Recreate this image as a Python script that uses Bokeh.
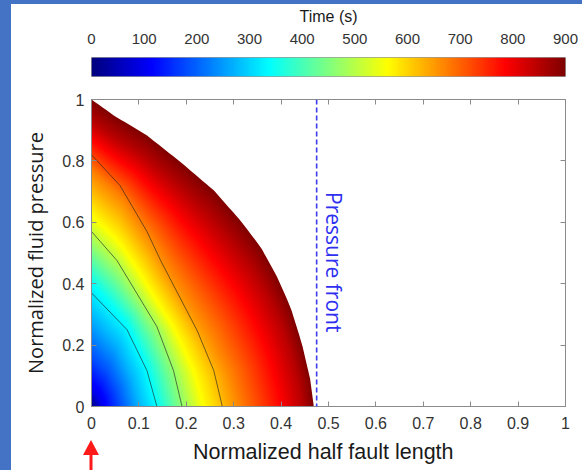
import numpy as np
from bokeh.plotting import figure
from bokeh.models import (LinearAxis, Span, LinearColorMapper, ColumnDataSource, Label, Div)
from bokeh.layouts import column
from bokeh.embed import file_html
from bokeh.resources import INLINE

# ---------------- data ----------------
time_ticks = [0, 100, 200, 300, 400, 500, 600, 700, 800, 900]
x_ticks = [0, 0.1, 0.2, 0.3, 0.4, 0.5, 0.6, 0.7, 0.8, 0.9, 1]
x_tick_labels = ["0", "0.1", "0.2", "0.3", "0.4", "0.5", "0.6", "0.7", "0.8", "0.9", "1"]
y_ticks = [0, 0.2, 0.4, 0.6, 0.8, 1]
y_tick_labels = ["0", "0.2", "0.4", "0.6", "0.8", "1"]
x_title = "Normalized half fault length"
y_title = "Normalized fluid pressure"

# pressure profiles drawn as thin black lines
curve_a_x = [0.0, 0.075, 0.117, 0.138]
curve_a_p = [0.37, 0.25, 0.117, 0.0]
curve_b_x = [0.0, 0.054, 0.138, 0.173, 0.191]
curve_b_p = [0.57, 0.475, 0.26, 0.117, 0.0]
curve_c_x = [0.0, 0.06, 0.117, 0.146, 0.223, 0.258, 0.276]
curve_c_p = [0.82, 0.72, 0.57, 0.475, 0.247, 0.117, 0.0]
# envelope at the final time (900 s)
final_x = [0.0, 0.047, 0.117, 0.188, 0.258, 0.314, 0.357, 0.392, 0.42, 0.444, 0.462, 0.469]
final_p = [1.0, 0.948, 0.883, 0.796, 0.704, 0.606, 0.519, 0.421, 0.323, 0.204, 0.085, 0.0]
profile_times = [330, 480, 650, 900]

anchor_t = [0, 90, 180, 270, 340, 450, 560, 675, 787, 850, 900]
anchor_p0 = [0.0, 0.05, 0.16, 0.29, 0.40, 0.51, 0.62, 0.77, 0.87, 0.93, 1.0]
anchor_xf = [0.0, 0.02, 0.06, 0.10, 0.138, 0.185, 0.235, 0.315, 0.40, 0.445, 0.469]
pressure_front_x = 0.475
injection_x = 0.0   # red arrow marks the injection point
t_max = 900


# ---------------- helpers ----------------
def jet(v):
    v = min(max(v, 0.0), 1.0)
    r = min(max(1.5 - abs(4 * v - 3), 0), 1)
    g = min(max(1.5 - abs(4 * v - 2), 0), 1)
    b = min(max(1.5 - abs(4 * v - 1), 0), 1)
    return "#%02x%02x%02x" % (int(r * 255), int(g * 255), int(b * 255))


jet256 = [jet(i / 255) for i in range(256)]

u = np.linspace(0, 1, 61)


def shape(xs, ps):
    xs = np.asarray(xs, float)
    ps = np.asarray(ps, float)
    return np.interp(u, xs / xs[-1], ps / ps[0])


shapes = np.array([shape(curve_a_x, curve_a_p), shape(curve_b_x, curve_b_p),
                   shape(curve_c_x, curve_c_p), shape(final_x, final_p)])


def profile(t):
    P = np.interp(t, anchor_t, anchor_p0)
    X = np.interp(t, anchor_t, anchor_xf)
    s = np.array([np.interp(t, profile_times, shapes[:, k]) for k in range(len(u))])
    return X * u, P * s


band_times = np.arange(t_max, 0, -5)
xs_list, ys_list, cols = [], [], []
for t in band_times:
    bx, by = profile(t)
    xs_list.append(list(bx) + [0.0])
    ys_list.append(list(by) + [0.0])
    cols.append(jet((t - 2.5) / t_max))
field_src = ColumnDataSource(dict(xs=xs_list, ys=ys_list, color=cols))

FONT_LBL = "Open Sans"
FONT_TICK = "Liberation Sans"
W = 571
BL, BR = 80, 17      # left / right borders of the plot frame (px)
FRAME_W = W - BL - BR

# ---------------- colour bar ----------------
mapper = LinearColorMapper(palette=jet256, low=0, high=t_max)
cb = figure(width=W, height=78, x_range=(0, t_max), y_range=(0, 1),
            x_axis_location="above", output_backend="svg", toolbar_location=None,
            min_border_left=BL, min_border_right=BR - 1, min_border_top=51, min_border_bottom=6)
cb.image(image=[np.linspace(0, t_max, 256)[None, :]], x=0, y=0, dw=t_max, dh=1,
         color_mapper=mapper)
cb.yaxis.visible = False
cb.grid.visible = False
cb.outline_line_color = "#9a9a9a"
cb.xaxis.ticker = time_ticks
cb.xaxis.axis_label = "Time (s)"
cb.xaxis.axis_line_color = None
cb.xaxis.major_tick_line_color = None
cb.xaxis.minor_tick_line_color = None
cb.xaxis.major_label_text_font = FONT_TICK
cb.xaxis.major_label_text_font_size = "15px"
cb.xaxis.major_label_text_color = "#333333"
cb.xaxis.major_label_standoff = 8
cb.xaxis.axis_label_text_font = FONT_TICK
cb.xaxis.axis_label_text_font_size = "16px"
cb.xaxis.axis_label_text_font_style = "normal"
cb.xaxis.axis_label_text_color = "#1a1a1a"
cb.xaxis.axis_label_standoff = 6
cb.border_fill_color = "white"

# ---------------- main plot ----------------
p = figure(width=W, height=356, x_range=(0, 1), y_range=(0, 1),
           output_backend="svg", toolbar_location=None,
           min_border_left=BL, min_border_right=BR, min_border_top=17, min_border_bottom=32)
p.grid.visible = False
p.outline_line_color = "#8a8a8a"
p.border_fill_color = "white"

p.patches("xs", "ys", source=field_src, fill_color="color", line_color=None)

for cx, cy in [(curve_a_x, curve_a_p), (curve_b_x, curve_b_p), (curve_c_x, curve_c_p)]:
    p.line(cx, cy, line_color="#222222", line_alpha=0.7, line_width=0.9)

p.add_layout(Span(location=pressure_front_x, dimension="height", line_color="#3a3af0",
                  line_dash="5 3", line_width=1.6))
p.add_layout(Label(x=pressure_front_x + 0.036, y=0.47, text="Pressure front",
                   angle=-np.pi / 2, text_align="center", text_baseline="middle",
                   text_color="#3030f0", text_font=FONT_LBL, text_font_size="21px"))

for ax in (p.xaxis[0], p.yaxis[0]):
    ax.major_tick_in = 5
    ax.major_tick_out = 0
    ax.minor_tick_line_color = None
    ax.axis_line_color = "#8a8a8a"
    ax.major_tick_line_color = "#8a8a8a"
    ax.major_label_text_font = FONT_TICK
    ax.major_label_text_font_size = "16px"
    ax.major_label_text_color = "#333333"
    ax.axis_label_text_font = FONT_LBL
    ax.axis_label_text_font_size = "20px"
    ax.axis_label_text_font_style = "normal"
    ax.axis_label_text_color = "#1a1a1a"

p.xaxis.ticker = x_ticks
p.xaxis.major_label_overrides = dict(zip(x_ticks, x_tick_labels))
p.yaxis.ticker = y_ticks
p.yaxis.major_label_overrides = dict(zip(y_ticks, y_tick_labels))
p.yaxis.axis_label = y_title
p.xaxis.major_label_standoff = 10
p.yaxis.major_label_standoff = 7
p.yaxis.axis_label_standoff = 10

top_ax = LinearAxis(ticker=x_ticks, major_label_text_font_size="0px", axis_line_color=None,
                    major_tick_in=5, major_tick_out=0, minor_tick_line_color=None,
                    major_tick_line_color="#8a8a8a", major_label_standoff=0)
right_ax = LinearAxis(ticker=y_ticks, major_label_text_font_size="0px", axis_line_color=None,
                      major_tick_in=5, major_tick_out=0, minor_tick_line_color=None,
                      major_tick_line_color="#8a8a8a", major_label_standoff=0)
p.add_layout(top_ax, "above")
p.add_layout(right_ax, "right")

# ---------------- strip below: x-axis title and red arrow (inline SVG) ----------------
bh = 32
ax0 = BL + injection_x * FRAME_W          # arrow position on the same x scale as the plot
title_cx = BL + 0.49 * FRAME_W
arrow_red = "#ff1a1a"
svg = (
    f'<svg xmlns="http://www.w3.org/2000/svg" width="{W}" height="{bh}" '
    f'style="display:block;margin:0;padding:0">'
    f'<rect x="{ax0 - 1.5}" y="15" width="3" height="{bh - 15}" fill="{arrow_red}"/>'
    f'<polygon points="{ax0 - 8},17 {ax0 + 8},17 {ax0},2" fill="{arrow_red}"/>'
    f'<text x="{title_cx}" y="21" text-anchor="middle" '
    f'font-family="{FONT_LBL}, sans-serif" font-size="21.5px" fill="#1a1a1a">{x_title}</text>'
    f'</svg>'
)
bot = Div(text=svg, width=W, height=bh, margin=0,
          styles={"background-color": "white", "margin": "0", "padding": "0",
                  "line-height": "0"})

inner = column(cb, p, bot, spacing=0, styles={"background-color": "white"})
layout = column(inner, styles={"background-color": "#4472c4", "padding": "4px 0 0 11px"})
open("out.html", "w").write(file_html(layout, INLINE))
